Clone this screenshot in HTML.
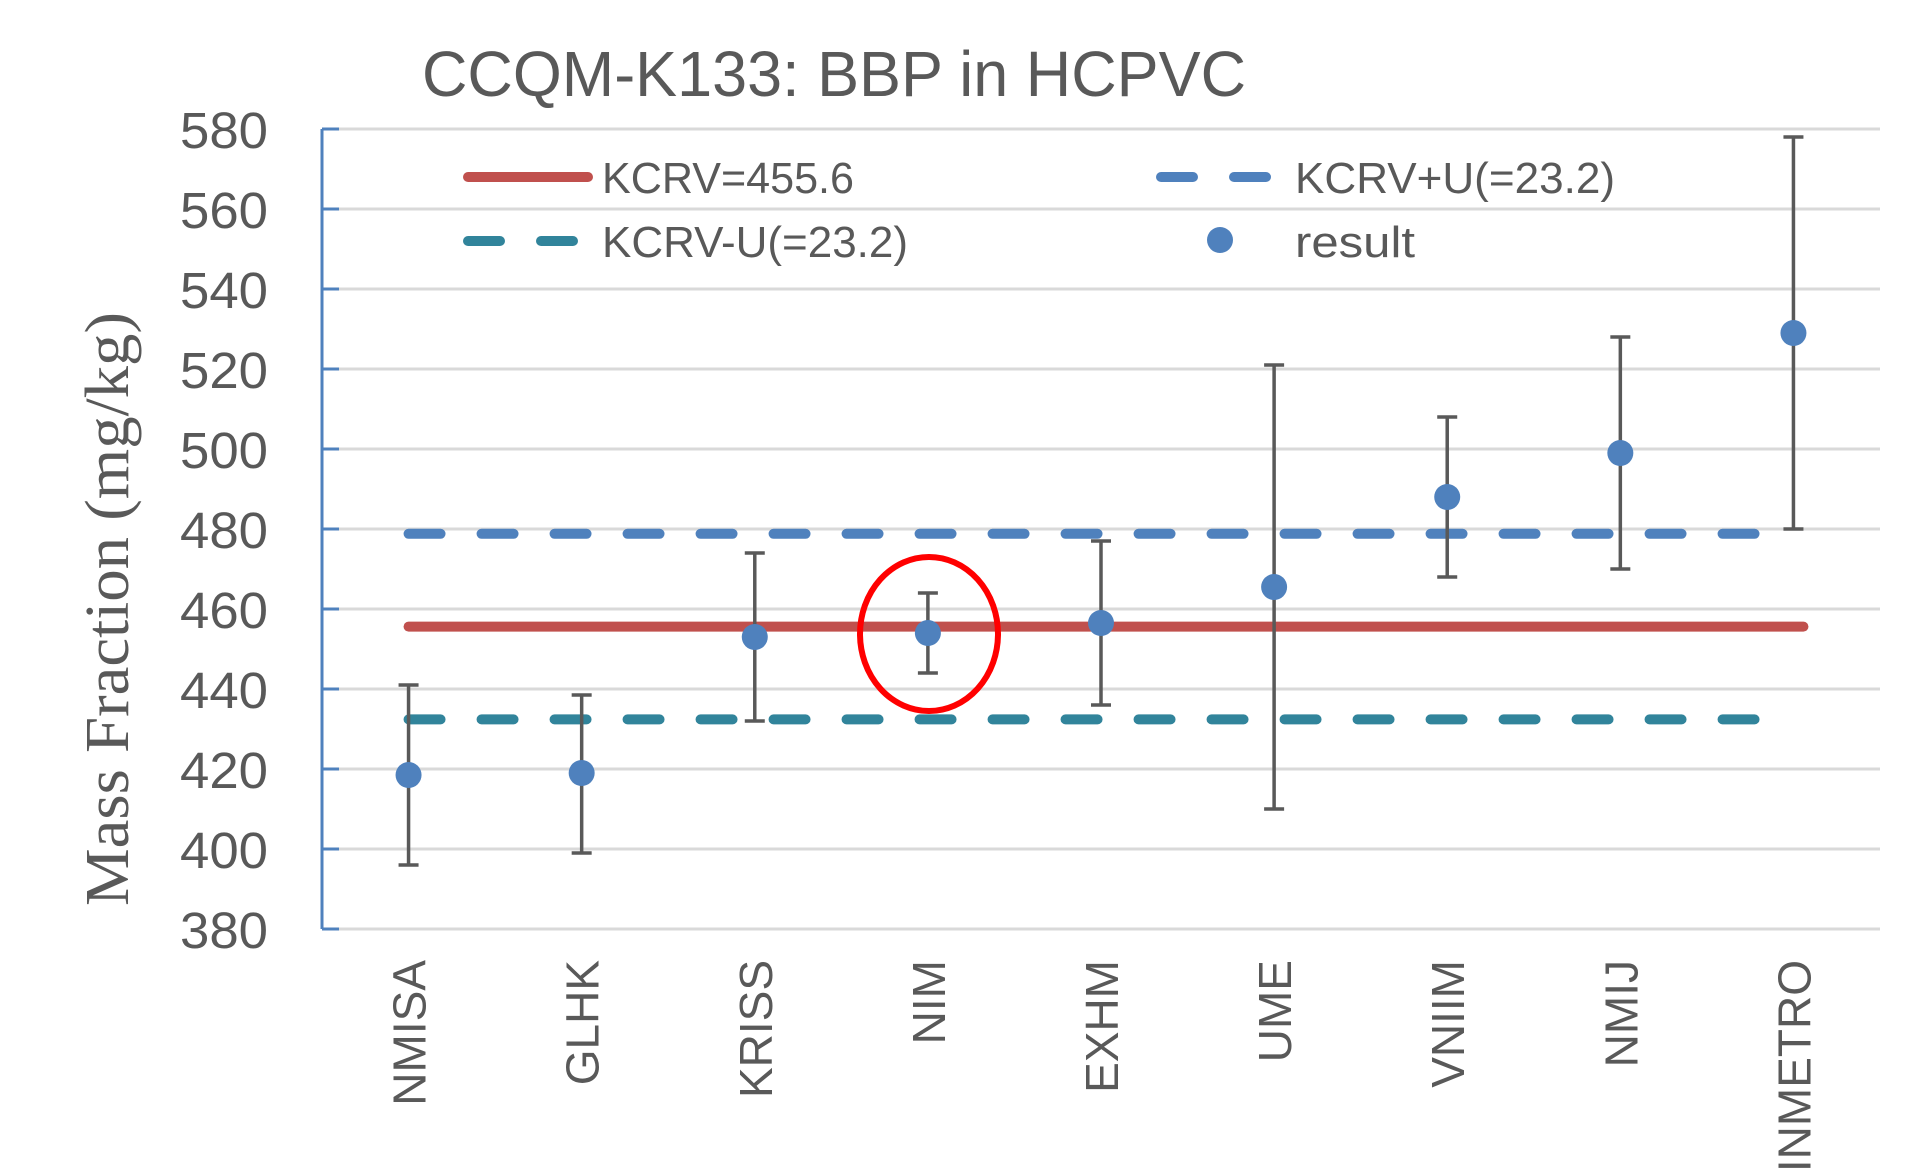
<!DOCTYPE html>
<html><head><meta charset="utf-8"><style>
html,body{margin:0;padding:0;background:#fff;}
svg{display:block;}
</style></head><body>
<svg id="chart" width="1910" height="1175" viewBox="0 0 1910 1175" xmlns="http://www.w3.org/2000/svg">
<text x="422" y="96" font-family="Liberation Sans, sans-serif" font-size="64" fill="#595959" textLength="824" lengthAdjust="spacingAndGlyphs">CCQM-K133: BBP in HCPVC</text>
<text transform="translate(128,609) rotate(-90)" text-anchor="middle" font-family="Liberation Serif, serif" font-size="62" fill="#595959" textLength="594" lengthAdjust="spacingAndGlyphs">Mass Fraction (mg/kg)</text>
<g id="grid"></g>
<g id="yticks"></g>
<g id="xlabels"></g>
<g id="refs"></g>
<g id="points"></g>
<ellipse cx="929" cy="634" rx="69" ry="77" fill="none" stroke="#ff0000" stroke-width="6"/>
<g>
  <line x1="468" y1="177" x2="588" y2="177" stroke="#C0504D" stroke-width="10" stroke-linecap="round"/>
  <text x="602" y="193" font-family="Liberation Sans, sans-serif" font-size="44" fill="#595959" textLength="252" lengthAdjust="spacingAndGlyphs">KCRV=455.6</text>
  <line x1="1161" y1="177" x2="1272" y2="177" stroke="#4F81BD" stroke-width="10" stroke-linecap="round" stroke-dasharray="32 41"/>
  <text x="1295" y="193" font-family="Liberation Sans, sans-serif" font-size="44" fill="#595959" textLength="320" lengthAdjust="spacingAndGlyphs">KCRV+U(=23.2)</text>
  <line x1="468" y1="241" x2="582" y2="241" stroke="#31849B" stroke-width="10" stroke-linecap="round" stroke-dasharray="32 41"/>
  <text x="602" y="257" font-family="Liberation Sans, sans-serif" font-size="44" fill="#595959" textLength="306" lengthAdjust="spacingAndGlyphs">KCRV-U(=23.2)</text>
  <circle cx="1220" cy="240" r="13" fill="#4F81BD"/>
  <text x="1295" y="257" font-family="Liberation Sans, sans-serif" font-size="44" fill="#595959" textLength="120" lengthAdjust="spacingAndGlyphs">result</text>
</g>
</svg>
<script>
const categories = ["NMISA","GLHK","KRISS","NIM","EXHM","UME","VNIIM","NMIJ","INMETRO"];
const results = [418.5, 419, 453, 454, 456.5, 465.5, 488, 499, 529];
const lowerBounds = [396, 399, 432, 444, 436, 410, 468, 470, 480];
const upperBounds = [441, 438.5, 474, 464, 477, 521, 508, 528, 578];
const kcrv = 455.6;
const uncertainty = 23.2;
const yTicks = [380,400,420,440,460,480,500,520,540,560,580];

const NS = "http://www.w3.org/2000/svg";
const plotL = 322, plotR = 1880, yTop = 129, yBot = 929, yMin = 380, yMax = 580;
const band = (plotR - plotL) / categories.length;
function xScale(i){ return plotL + band * (i + 0.5); }
function yScale(v){ return yBot - (v - yMin) / (yMax - yMin) * (yBot - yTop); }
function mk(tag, attrs, parent){
  const e = document.createElementNS(NS, tag);
  for (const k in attrs) e.setAttribute(k, attrs[k]);
  parent.appendChild(e); return e;
}
const grid = document.getElementById('grid');
const yt = document.getElementById('yticks');
yTicks.forEach(t => {
  const y = yScale(t);
  const g = mk('line', {x1: plotL, x2: plotR, y1: y, y2: y, stroke: '#D9D9D9', 'stroke-width': 3}, grid);
  
  
  const tk = mk('line', {x1: plotL, x2: plotL + 17, y1: y, y2: y, stroke: '#4F81BD', 'stroke-width': 3}, yt);
  
  
  const tx = mk('text', {x: 268, y: y + 19, 'text-anchor': 'end', 'font-family': 'Liberation Sans, sans-serif', 'font-size': 51, fill: '#595959', textLength: 88, lengthAdjust: 'spacingAndGlyphs'}, yt);
  tx.textContent = t;
  
  
});
const ax = mk('line', {x1: plotL, x2: plotL, y1: yTop, y2: yBot, stroke: '#4F81BD', 'stroke-width': 3}, yt);



const xl = document.getElementById('xlabels');
categories.forEach((c, i) => {
  const x = xScale(i) + 17;
  const t = mk('text', {transform: 'translate(' + x + ',960) rotate(-90)', 'text-anchor': 'end', 'font-family': 'Liberation Sans, sans-serif', 'font-size': 46, fill: '#595959'}, xl);
  t.textContent = c;
  
  
});

const refs = document.getElementById('refs');
const x0 = xScale(0), xN = xScale(categories.length - 1);
const up = mk('line', {x1: x0, x2: xN - 20, y1: yScale(kcrv + uncertainty), y2: yScale(kcrv + uncertainty), stroke: '#4F81BD', 'stroke-width': 10, 'stroke-linecap': 'round', 'stroke-dasharray': '32 41'}, refs);


const lo = mk('line', {x1: x0, x2: xN - 20, y1: yScale(kcrv - uncertainty), y2: yScale(kcrv - uncertainty), stroke: '#31849B', 'stroke-width': 10, 'stroke-linecap': 'round', 'stroke-dasharray': '32 41'}, refs);


const kl = mk('line', {x1: x0, x2: xN + 10, y1: yScale(kcrv), y2: yScale(kcrv), stroke: '#C0504D', 'stroke-width': 10, 'stroke-linecap': 'round'}, refs);



const pts = document.getElementById('points');
categories.forEach((c, i) => {
  const x = xScale(i);
  const g = mk('g', {}, pts);
  
  
  const yl = yScale(lowerBounds[i]), yu = yScale(upperBounds[i]);
  const v = mk('line', {x1: x, x2: x, y1: yu, y2: yl, stroke: '#595959', 'stroke-width': 3.5}, g);
  
  
  [yu, yl].forEach(yy => {
    const cap = mk('line', {x1: x - 10, x2: x + 10, y1: yy, y2: yy, stroke: '#595959', 'stroke-width': 3.5}, g);
    
    
  });
  const p = mk('circle', {cx: x, cy: yScale(results[i]), r: 13, fill: '#4F81BD'}, g);
  
  
});
</script>
</body></html>
